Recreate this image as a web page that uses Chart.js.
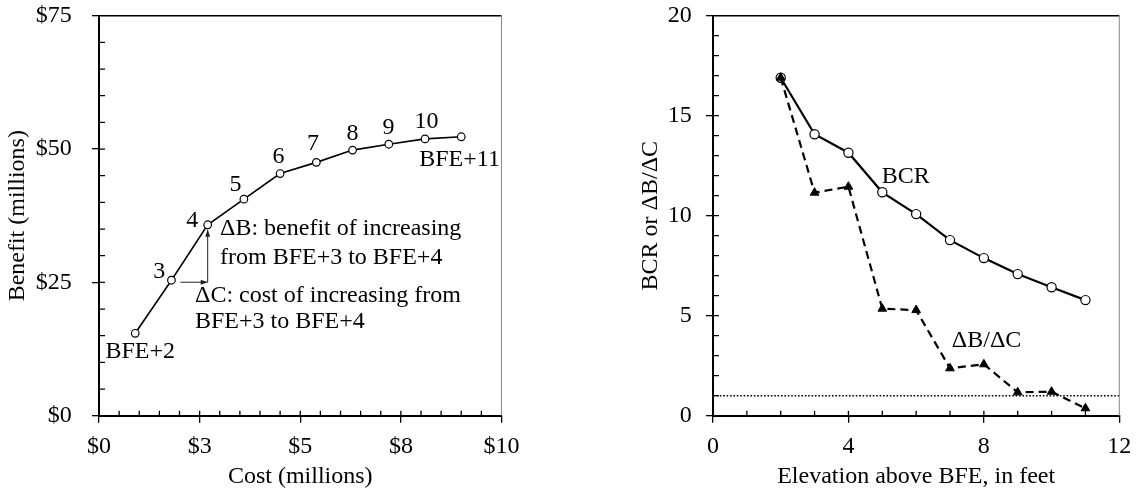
<!DOCTYPE html>
<html>
<head>
<meta charset="utf-8">
<script src="https://cdn.jsdelivr.net/npm/chart.js@4.4.0/dist/chart.umd.min.js"></script>
<style>
  html, body { margin: 0; padding: 0; background: #fff; }
  #wrap { position: relative; width: 1138px; height: 490px; }
  .panel { position: absolute; top: 0; height: 490px; }
  #left { left: 0; width: 560px; }
  #right { left: 560px; width: 578px; }
</style>
</head>
<body>
<div id="wrap">
  <div class="panel" id="left"><canvas id="benefit-chart"></canvas></div>
  <div class="panel" id="right"><canvas id="ratio-chart"></canvas></div>
</div>
<script>
// Left panel: cost vs benefit for elevations BFE+2 .. BFE+11
const costMillions = [0.9, 1.8, 2.7, 3.6, 4.5, 5.4, 6.3, 7.2, 8.1, 9.0];
const benefitMillions = [15.45, 25.4, 35.8, 40.6, 45.4, 47.5, 49.8, 50.9, 51.9, 52.3];
const pointLabels = ['BFE+2', '3', '4', '5', '6', '7', '8', '9', '10', 'BFE+11'];
const costTickLabels = ['$0', '$3', '$5', '$8', '$10'];
const benefitTickLabels = ['$0', '$25', '$50', '$75'];

// Right panel: BCR and marginal ratio by elevation
const elevationFeet = [2, 3, 4, 5, 6, 7, 8, 9, 10, 11];
const bcr = [16.9, 14.07, 13.15, 11.17, 10.08, 8.78, 7.88, 7.08, 6.42, 5.78];
const marginalRatio = [16.9, 11.15, 11.45, 5.35, 5.28, 2.37, 2.57, 1.17, 1.2, 0.37];
const breakEven = 1;
const elevationTickLabels = ['0', '4', '8', '12'];
const ratioTickLabels = ['0', '5', '10', '15', '20'];

const FONT = '"Liberation Serif", "Times New Roman", serif';
Chart.defaults.font.family = FONT;
Chart.defaults.font.size = 24;
Chart.defaults.color = '#000';

// box top/right edges plus the small inside ticks
const framePlugin = {
    id: 'frame',
    afterDraw(chart, args, opts) {
        const { ctx, chartArea: a, scales: { x, y } } = chart;
        ctx.save();
        ctx.strokeStyle = '#000';
        ctx.lineWidth = 1.5;
        ctx.beginPath();
        ctx.moveTo(a.left, a.top);
        ctx.lineTo(a.right, a.top);
        ctx.stroke();
        ctx.strokeStyle = '#888';
        ctx.lineWidth = 1;
        ctx.beginPath();
        ctx.moveTo(a.right, a.top);
        ctx.lineTo(a.right, a.bottom);
        ctx.stroke();

        ctx.strokeStyle = '#000';
        ctx.lineWidth = 1.3;
        ctx.beginPath();
        const nx = Math.round((x.max - x.min) / opts.xStep);
        for (let i = 1; i < nx; i++) {
            const px = x.getPixelForValue(x.min + i * opts.xStep);
            ctx.moveTo(px, a.bottom);
            ctx.lineTo(px, a.bottom - 5);
        }
        const ny = Math.round((y.max - y.min) / opts.yStep);
        for (let i = 1; i < ny; i++) {
            const py = y.getPixelForValue(y.min + i * opts.yStep);
            ctx.moveTo(a.left, py);
            ctx.lineTo(a.left + 6, py);
        }
        ctx.stroke();
        ctx.restore();
    }
};

function axisScale(min, max, step, labels, size, pad, title, titlePad) {
    return {
        type: 'linear',
        min: min,
        max: max,
        ticks: {
            stepSize: step,
            padding: pad,
            autoSkip: false,
            maxRotation: 0,
            callback: (v, i) => labels[i]
        },
        grid: { drawOnChartArea: false, drawTicks: true, tickLength: 7, color: '#000', lineWidth: 1.3 },
        border: { display: true, color: '#000', width: 2 },
        title: { display: true, text: title, padding: titlePad, font: { size: 24, lineHeight: 1 } },
        afterFit: s => {
            if (s.isHorizontal()) s.height = size; else s.width = size;
            // keep the plot area where the layout padding puts it
            s.paddingTop = 0;
            s.paddingBottom = 0;
            s.paddingLeft = 0;
            s.paddingRight = 0;
        }
    };
}

function arrow(ctx, x1, y1, x2, y2) {
    const ang = Math.atan2(y2 - y1, x2 - x1);
    ctx.beginPath();
    ctx.moveTo(x1, y1);
    ctx.lineTo(x2, y2);
    ctx.stroke();
    ctx.beginPath();
    ctx.moveTo(x2, y2);
    ctx.lineTo(x2 - 7 * Math.cos(ang) + 2.5 * Math.sin(ang), y2 - 7 * Math.sin(ang) - 2.5 * Math.cos(ang));
    ctx.lineTo(x2 - 7 * Math.cos(ang) - 2.5 * Math.sin(ang), y2 - 7 * Math.sin(ang) + 2.5 * Math.cos(ang));
    ctx.closePath();
    ctx.fill();
}

// Left chart notes: point numbers, delta text and arrows
const benefitNotes = {
    id: 'benefitNotes',
    afterDatasetsDraw(chart) {
        const { ctx } = chart;
        const meta = chart.getDatasetMeta(0).data;
        const offsets = [[5, 18.4], [-12.3, -8.3], [-15.4, -4], [-8.3, -14.3], [-1.6, -17],
                         [-3.4, -19], [0, -16.7], [-0.4, -17], [1.4, -17], [-1.7, 23.3]];
        ctx.save();
        ctx.fillStyle = '#000';
        ctx.font = '24px ' + FONT;
        ctx.textBaseline = 'middle';
        ctx.textAlign = 'center';
        pointLabels.forEach((t, i) => {
            ctx.fillText(t, meta[i].x + offsets[i][0], meta[i].y + offsets[i][1]);
        });

        const p3 = meta[1], p4 = meta[2];
        ctx.textAlign = 'left';
        ctx.fillText('\u0394B: benefit of increasing', p4.x + 12.3, p4.y + 4);
        ctx.fillText('from BFE+3 to BFE+4', p4.x + 12.3, p4.y + 32.5);
        ctx.fillText('\u0394C: cost of increasing from', p4.x - 12.7, p3.y + 15);
        ctx.fillText('BFE+3 to BFE+4', p4.x - 12.7, p3.y + 41.7);

        ctx.strokeStyle = '#222';
        ctx.fillStyle = '#222';
        ctx.lineWidth = 1;
        arrow(ctx, p3.x + 9, p3.y + 2, p4.x, p3.y + 2);
        arrow(ctx, p4.x, p3.y + 2, p4.x, p4.y + 5);
        ctx.restore();
    }
};

new Chart(document.getElementById('benefit-chart'), {
    type: 'line',
    data: {
        datasets: [{
            label: 'Benefit',
            data: costMillions.map((c, i) => ({ x: c, y: benefitMillions[i] })),
            borderColor: '#000',
            borderWidth: 1.6,
            pointRadius: 3.8,
            pointBorderWidth: 1.2,
            pointBackgroundColor: '#fff',
            pointBorderColor: '#000',
            fill: false
        }]
    },
    options: {
        responsive: true,
        maintainAspectRatio: false,
        animation: false,
        layout: { padding: { left: 0, right: 58.5, top: 15.7, bottom: 0 } },
        plugins: {
            legend: { display: false },
            tooltip: { enabled: false },
            frame: { xStep: 0.5, yStep: 5 }
        },
        scales: {
            x: axisScale(0, 10, 2.5, costTickLabels, 74.3, 10,
                         'Cost (millions)', { top: 0, bottom: 1 }),
            y: axisScale(0, 75, 25, benefitTickLabels, 99, 20.3,
                         'Benefit (millions)', { top: 6, bottom: 0 })
        }
    },
    plugins: [framePlugin, benefitNotes]
});

// Right chart series names
const ratioNotes = {
    id: 'ratioNotes',
    afterDatasetsDraw(chart) {
        const { ctx, scales: { x, y } } = chart;
        ctx.save();
        ctx.fillStyle = '#000';
        ctx.font = '24px ' + FONT;
        ctx.textBaseline = 'middle';
        ctx.textAlign = 'center';
        ctx.fillText('BCR', x.getPixelForValue(5.69), y.getPixelForValue(11.95));
        ctx.fillText('\u0394B/\u0394C', x.getPixelForValue(8.08), y.getPixelForValue(3.75));
        ctx.restore();
    }
};

new Chart(document.getElementById('ratio-chart'), {
    type: 'line',
    data: {
        datasets: [{
            label: '\u0394B/\u0394C',
            data: elevationFeet.map((e, i) => ({ x: e, y: marginalRatio[i] })),
            borderColor: '#000',
            borderWidth: 2.2,
            borderDash: [8, 5],
            pointStyle: 'triangle',
            pointRadius: 5,
            pointBorderWidth: 1,
            pointBackgroundColor: '#000',
            pointBorderColor: '#000',
            fill: false
        }, {
            label: 'BCR',
            data: elevationFeet.map((e, i) => ({ x: e, y: bcr[i] })),
            borderColor: '#000',
            borderWidth: 2.2,
            pointRadius: 4.6,
            pointBorderWidth: 1.2,
            pointBackgroundColor: '#fff',
            pointBorderColor: '#000',
            fill: false
        }, {
            label: 'Break even',
            data: [{ x: 0, y: breakEven }, { x: 12, y: breakEven }],
            borderColor: '#000',
            borderWidth: 1.6,
            borderDash: [1.6, 1.8],
            pointRadius: 0,
            fill: false
        }]
    },
    options: {
        responsive: true,
        maintainAspectRatio: false,
        animation: false,
        layout: { padding: { left: 0, right: 18.7, top: 15.7, bottom: 0 } },
        plugins: {
            legend: { display: false },
            tooltip: { enabled: false },
            frame: { xStep: 1, yStep: 1 }
        },
        scales: {
            x: axisScale(0, 12, 4, elevationTickLabels, 74.3, 10,
                         'Elevation above BFE, in feet', { top: 0, bottom: 1 }),
            y: axisScale(0, 20, 5, ratioTickLabels, 153, 14.3,
                         'BCR or \u0394B/\u0394C', { top: 79, bottom: 0 })
        }
    },
    plugins: [framePlugin, ratioNotes]
});
</script>
</body>
</html>
